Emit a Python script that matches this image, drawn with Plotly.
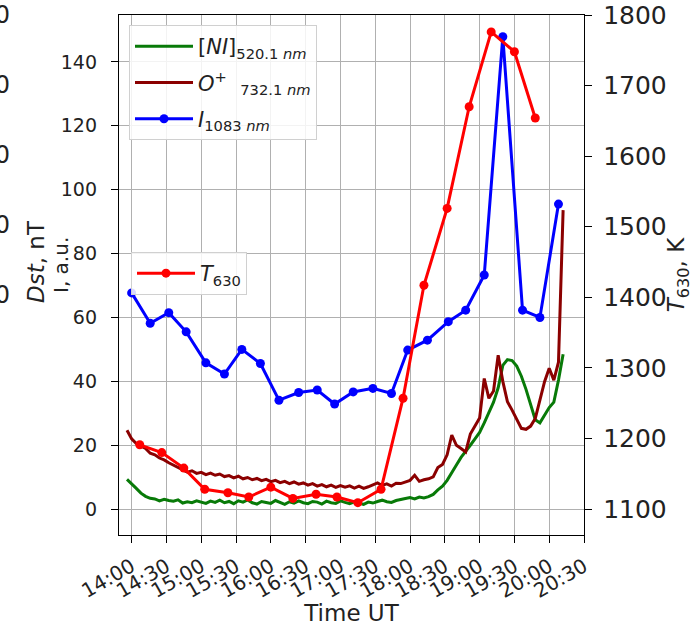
import pandas as pd
import plotly.graph_objects as go

# ---------------- data (minutes after 14:00 UT) ----------------
base = pd.Timestamp("2020-01-01 14:00")

t_fine_min = list(range(-4, 373, 4))
ni_520 = [
    9.3, 8.0, 6.5, 5.0, 4.0, 3.4, 3.2, 2.6, 3.1, 2.7,
    2.5, 2.9, 1.9, 2.3, 2.0, 2.6, 2.2, 1.8, 2.5, 2.1,
    2.8, 2.0, 2.4, 1.7, 2.6, 2.2, 2.9, 2.0, 1.6, 2.4,
    2.1, 1.8, 2.7, 2.0, 1.5, 2.3, 1.9, 2.6, 2.0, 1.7,
    2.4, 2.2, 1.6, 2.5, 2.0, 1.8, 2.6, 2.1, 1.7, 2.3,
    2.0, 1.5, 2.2, 1.9, 2.4, 2.8, 2.3, 2.1, 2.7, 2.9,
    3.3, 3.6, 3.2, 3.8, 3.5, 3.9, 4.6, 6.0, 7.2, 9.0,
    11.2, 13.8, 16.2, 18.0, 20.0, 22.0, 24.0, 27.0, 30.3, 33.5,
    38.0, 45.0, 46.8, 46.5, 44.8, 41.6, 37.5, 32.5, 28.0, 27.0,
    29.5, 31.8, 33.5, 40.4, 48.5,
]
o_plus_732 = [
    24.7, 22.0, 20.5, 19.8, 19.0, 17.5, 17.0, 16.0, 15.4, 14.5,
    13.8, 13.2, 12.4, 11.6, 12.0, 11.2, 11.5, 10.8, 11.3, 10.6,
    11.0, 10.2, 10.5, 9.8, 10.3, 9.5, 9.9, 9.2, 9.6, 8.9,
    9.3, 8.6, 9.0, 8.3, 8.7, 8.0, 8.5, 7.8, 8.2, 7.5,
    8.0, 7.2, 7.7, 7.0, 7.5, 6.8, 7.4, 6.9, 7.3, 6.6,
    7.2, 6.5, 7.0, 7.6, 8.2, 7.4, 7.9, 7.2, 8.1, 8.0,
    8.5, 9.0, 10.6, 8.7, 9.2, 9.5, 10.1, 13.0, 14.0, 17.0,
    23.2, 20.0, 19.0, 17.9, 23.5, 26.0, 28.5, 40.9, 34.7, 37.0,
    48.2, 40.0, 33.6, 31.0, 28.0, 25.3, 25.0, 26.0, 28.4, 34.0,
    39.9, 44.1, 40.4, 46.0, 93.6,
]

t_1083_min = [0, 16, 32, 47, 64, 80, 95, 111, 127, 144, 160, 175,
              191, 208, 224, 238, 255, 273, 288, 304, 320, 337, 352, 368]
i_1083 = [67.7, 58.2, 61.5, 55.5, 45.8, 42.3, 50.0, 45.6, 34.1, 36.5, 37.3, 32.9,
          36.7, 37.8, 36.2, 49.8, 52.9, 58.7, 62.3, 73.3, 147.9, 62.3, 60.0, 95.5]

t_630_min = [7, 26, 45, 63, 83, 101, 120, 139, 159, 177, 195, 215,
             234, 252, 272, 291, 310, 330, 348]
T_630 = [1191, 1180, 1158, 1128, 1123, 1117, 1131, 1115, 1121, 1117, 1109, 1128,
         1257, 1417, 1526, 1670, 1776, 1748, 1654]

# stray tick labels of the neighbouring (cropped) Dst panel
dst_tickvals = [0, -10, -20, -30, -40]
dst_ticktext = ["\u221220", "\u221240", "\u221260", "\u221280", "\u2212100"]


def to_time(mins):
    return [(base + pd.Timedelta(minutes=m)).strftime("%Y-%m-%d %H:%M:%S") for m in mins]


FONT = "DejaVu Sans"
TXT = "#222222"
fig = go.Figure()

fig.add_trace(go.Scatter(x=[], y=[], yaxis="y3", showlegend=False, hoverinfo="skip"))

fig.add_trace(go.Scatter(
    x=to_time(t_fine_min), y=ni_520, mode="lines", line=dict(color="#087a08", width=3),
    name="[<i>NI</i>]<sub>520.1 <i>nm</i></sub>", legend="legend", legendgroup="a"))
fig.add_trace(go.Scatter(
    x=to_time(t_fine_min), y=o_plus_732, mode="lines", line=dict(color="#8b0000", width=3),
    name="<i>O</i><sup>+</sup>  <sub>732.1 <i>nm</i></sub>", legend="legend", legendgroup="b"))
fig.add_trace(go.Scatter(
    x=to_time(t_1083_min), y=i_1083, mode="lines+markers",
    line=dict(color="#0000ff", width=3), marker=dict(size=9, color="#0000ff"),
    name="<i>I</i><sub>1083 <i>nm</i></sub>", legend="legend", legendgroup="c"))
fig.add_trace(go.Scatter(
    x=to_time(t_630_min), y=T_630, mode="lines+markers", yaxis="y2",
    line=dict(color="#ff0000", width=3), marker=dict(size=9, color="#ff0000"),
    name="<i>T</i><sub>630</sub>", legend="legend2"))

W, H = 693, 626
L_PIX, R_PIX, T_PIX, B_PIX = 119, 584, 15, 535
paper_w = R_PIX
dom0 = L_PIX / paper_w
ph = B_PIX - T_PIX

fig.update_layout(
    width=W, height=H, template="none",
    paper_bgcolor="white", plot_bgcolor="white",
    margin=dict(l=0, r=W - R_PIX, t=T_PIX, b=H - B_PIX, pad=0),
    font=dict(family=FONT, color=TXT, size=18),
    xaxis=dict(
        domain=[dom0, 1], type="date",
        range=["2020-01-01 13:49:06", "2020-01-01 20:30:00"],
        tick0="2020-01-01 14:00:00", dtick=30 * 60 * 1000, tickformat="%H:%M",
        tickangle=-30, tickfont=dict(size=20, color=TXT), ticklabelstandoff=4,
        ticks="outside", ticklen=7, tickwidth=1.3, tickcolor="black",
        showline=True, linecolor="black", linewidth=1.3, mirror=True,
        showgrid=True, gridcolor="#b0b0b0", gridwidth=1, zeroline=False,
        automargin=False,
        title=dict(text="Time UT", font=dict(size=23, color=TXT), standoff=4),
    ),
    yaxis=dict(
        anchor="x", range=[-8.1, 154.7], tick0=0, dtick=20,
        tickfont=dict(size=19, color=TXT), ticklabelstandoff=10,
        ticks="outside", ticklen=7, tickwidth=1.3, tickcolor="black",
        showline=True, linecolor="black", linewidth=1.3,
        showgrid=True, gridcolor="#b0b0b0", gridwidth=1, zeroline=False,
        automargin=False,
    ),
    yaxis2=dict(
        overlaying="y", anchor="x", side="right", range=[1063.2, 1800],
        tick0=1100, dtick=100, tickfont=dict(size=25, color=TXT), ticklabelstandoff=6,
        ticks="outside", ticklen=7, tickwidth=1.3, tickcolor="black",
        showline=True, linecolor="black", linewidth=1.3,
        showgrid=False, zeroline=False, automargin=False,
        title=dict(text="<i>T</i><sub>630</sub>, K", font=dict(size=23, color=TXT),
                   standoff=22),
    ),
    yaxis3=dict(
        overlaying="y", anchor="free", position=10 / paper_w, side="left",
        range=[-74.2857, 0], tickvals=dst_tickvals, ticktext=dst_ticktext,
        tickfont=dict(size=24, color=TXT), ticks="",
        showline=False, showgrid=False, zeroline=False, automargin=False,
    ),
    legend=dict(
        x=129 / paper_w, y=(B_PIX - 25) / ph, xanchor="left", yanchor="top",
        bgcolor="rgba(255,255,255,0.85)", bordercolor="#d0d0d0", borderwidth=1,
        font=dict(size=21, color=TXT, family=FONT), tracegroupgap=6, itemwidth=58,
    ),
    legend2=dict(
        x=131 / paper_w, y=(B_PIX - 252) / ph, xanchor="left", yanchor="top",
        bgcolor="rgba(255,255,255,0.85)", bordercolor="#d0d0d0", borderwidth=1,
        font=dict(size=21, color=TXT, family=FONT), itemwidth=58,
    ),
    annotations=[
        dict(text="<i>Dst</i>, nT", xref="paper", yref="paper",
             x=36 / paper_w, y=(B_PIX - 262) / ph, xanchor="center", yanchor="middle",
             textangle=-90, showarrow=False, font=dict(size=23, color=TXT, family=FONT)),
        dict(text="I, a.u.", xref="paper", yref="paper",
             x=61 / paper_w, y=(B_PIX - 265) / ph, xanchor="center", yanchor="middle",
             textangle=-90, showarrow=False, font=dict(size=20, color=TXT, family=FONT)),
    ],
    showlegend=True,
)

fig.write_html("out.html", config={"displayModeBar": False})
